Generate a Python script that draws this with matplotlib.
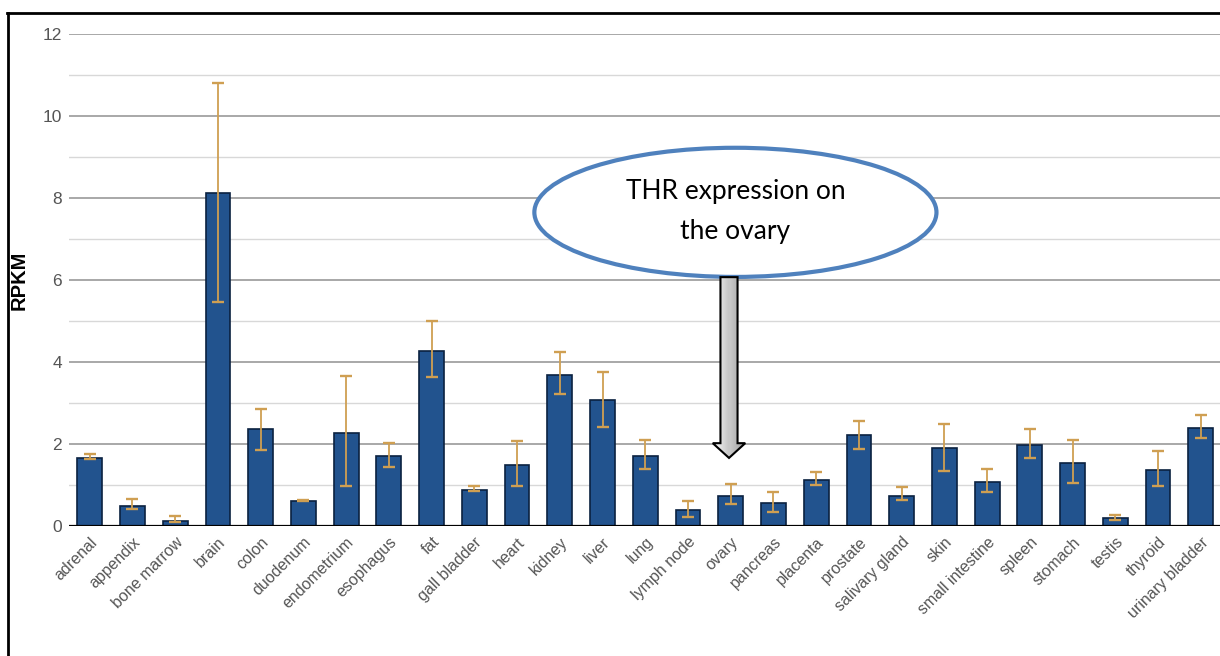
"""RPKM expression per tissue with an annotation pointing at the ovary."""
import matplotlib
matplotlib.use("Agg")
import matplotlib.pyplot as plt
import numpy as np
from matplotlib.patches import Ellipse, FancyArrow
from matplotlib.lines import Line2D

plt.rcParams["font.family"] = ["Liberation Sans", "DejaVu Sans"]

tissues = ["adrenal", "appendix", "bone marrow", "brain", "colon", "duodenum",
           "endometrium", "esophagus", "fat", "gall bladder", "heart", "kidney",
           "liver", "lung", "lymph node", "ovary", "pancreas", "placenta",
           "prostate", "salivary gland", "skin", "small intestine", "spleen",
           "stomach", "testis", "thyroid", "urinary bladder"]
rpkm = [1.67, 0.50, 0.13, 8.13, 2.36, 0.62, 2.28, 1.71, 4.28, 0.89, 1.50, 3.69,
        3.08, 1.71, 0.40, 0.73, 0.57, 1.12, 2.22, 0.74, 1.91, 1.08, 1.98, 1.54,
        0.20, 1.36, 2.40]
err_lo = [1.63, 0.42, 0.10, 5.46, 1.85, 0.60, 0.98, 1.43, 3.64, 0.85, 0.97, 3.21,
          2.42, 1.38, 0.21, 0.53, 0.33, 0.99, 1.89, 0.63, 1.34, 0.83, 1.66, 1.05,
          0.15, 0.98, 2.14]
err_hi = [1.76, 0.65, 0.24, 10.81, 2.86, 0.63, 3.66, 2.02, 4.99, 0.98, 2.07, 4.24,
          3.76, 2.10, 0.62, 1.02, 0.84, 1.31, 2.57, 0.94, 2.50, 1.40, 2.36, 2.09,
          0.26, 1.83, 2.71]
yticks = [0, 2, 4, 6, 8, 10, 12]
note = "THR expression on\nthe ovary"

W, H = 1220, 656
fig = plt.figure(figsize=(W / 100, H / 100), dpi=100)
ax = fig.add_axes([69 / W, (H - 526) / H, (W - 69) / W, 492 / H])

x = np.arange(len(tissues))
y = np.array(rpkm)
yerr = [y - np.array(err_lo), np.array(err_hi) - y]

ax.bar(x, y, width=0.58, color="#22538e", edgecolor="#0b2140", lw=1.2, zorder=3)
ax.errorbar(x, y, yerr=yerr, fmt="none", ecolor="#cf9f52", elinewidth=1.3,
            capsize=4, capthick=1.7, zorder=4)

# callout: ellipse + block arrow pointing down at the ovary bar
ov = tissues.index("ovary")
ell = Ellipse((15.11, 7.65), 9.41, 3.15, facecolor="white", edgecolor="#4f81bd",
              lw=3, zorder=6, clip_on=False)
ax.add_patch(ell)
ax.text(15.11, 7.68, note, ha="center", va="center", fontsize=19,
        family="Lato", linespacing=1.75, zorder=7)

arr = FancyArrow(ov - 0.04, 6.07, 0, 1.66 - 6.07, width=0.4, head_width=0.76,
                 head_length=0.36, length_includes_head=True,
                 facecolor="none", edgecolor="black", lw=1.5, zorder=8)
ax.add_patch(arr)
grad = np.tile(np.concatenate([np.linspace(0.98, 0.78, 8),
                               np.linspace(0.78, 0.62, 8)]), (2, 1))
im = ax.imshow(grad, cmap="gray", vmin=0, vmax=1, aspect="auto",
               extent=(ov - 0.42, ov + 0.34, 1.66, 6.07), zorder=7)
im.set_clip_path(arr)

ax.set_xlim(-0.485, 26.45)
ax.set_ylim(0, 12)
ax.set_yticks(yticks)
ax.set_yticks(range(1, 12, 2), minor=True)
ax.grid(axis="y", which="major", color="#9a9a9a", lw=1.2, zorder=0)
ax.grid(axis="y", which="minor", color="#d8d8d8", lw=1.0, zorder=0)
ax.axhline(0, color="black", lw=1.6, zorder=5)
for s in ax.spines.values():
    s.set_visible(False)
ax.tick_params(axis="y", which="both", length=0, pad=5, labelsize=12.5,
               labelcolor="#555555")
ax.set_xticks(x)
ax.set_xticklabels(tissues, rotation=45, ha="right", va="top",
                   rotation_mode="anchor", fontsize=11.5, color="#555555")
ax.tick_params(axis="x", length=0, pad=6)

ax.set_ylabel("RPKM", fontsize=14.5, fontweight="bold")
ax.yaxis.set_label_coords(-0.035, 0.5)

# outer frame of the original figure (top and left edges visible)
fig.add_artist(Line2D([7 / W, 1], [1 - 12.5 / H, 1 - 12.5 / H], color="black", lw=2))
fig.add_artist(Line2D([7.5 / W, 7.5 / W], [0, 1 - 12.5 / H], color="black", lw=2))

fig.savefig("out.png", dpi=100)
